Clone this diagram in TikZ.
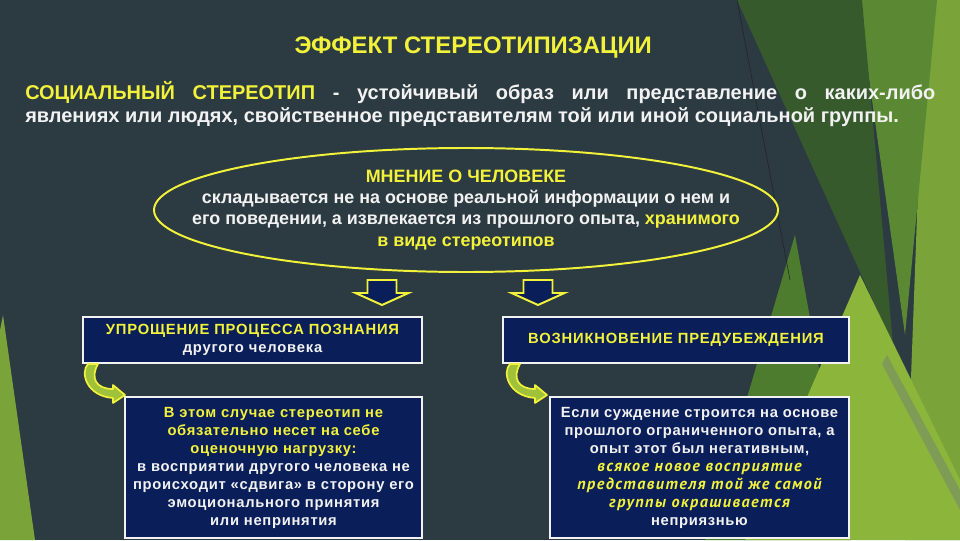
\documentclass[tikz,border=0pt]{standalone}
\usepackage{fontspec}
\setmainfont{Liberation Sans}
\newfontfamily\itcyr{PT Sans}[LetterSpace=9]
\usetikzlibrary{shapes.geometric}

\definecolor{slate}{HTML}{2C3A42}
\definecolor{darkgreen}{HTML}{375A2D}
\definecolor{midgreen}{HTML}{5B8833}
\definecolor{lightgreen}{HTML}{7AA33A}
\definecolor{lowgreen}{HTML}{4E7C2E}
\definecolor{brightgreen}{HTML}{8CB53B}
\definecolor{stripe}{HTML}{7F9C56}
\definecolor{arrgreen}{HTML}{A0C23A}
\definecolor{yel}{HTML}{F2F23A}
\definecolor{wht}{HTML}{F2F2F2}
\definecolor{navy}{HTML}{0A1E5A}

\tikzset{
  ttl/.style={font=\fontsize{17}{20}\selectfont\bfseries, text=yel},
  defn/.style={anchor=north west, inner sep=0pt, text width=22.75cm, align=justify,
    font=\fontsize{14.2}{16.4}\selectfont\bfseries, text=wht},
  opinionring/.style={ellipse, draw=yel, line width=1.4pt, minimum width=15.6cm, minimum height=3.1cm,
    inner sep=0pt},
  opiniontext/.style={inner sep=0pt, align=center, font=\fontsize{12.75}{15}\selectfont\bfseries, text=wht},
  headbox/.style={draw=wht, line width=1.4pt, fill=navy, minimum height=1.15cm, inner sep=0pt,
    align=center, font=\fontsize{10.5}{12.8}\selectfont\bfseries\addfontfeature{LetterSpace=5.5}, text=wht},
  bodybox/.style={headbox, minimum height=3.525cm},
  blockarr/.style={draw=yel, line width=1.4pt, fill=navy, line join=miter},
  curvearr/.style={draw=yel, line width=1.2pt, fill=arrgreen, line join=round},
}

\begin{document}
\begin{tikzpicture}
  \useasboundingbox (0,0) rectangle (24,13.5);
  \fill[slate] (0,0) rectangle (24,13.5);
  \fill[lightgreen] (23.125,13.5) -- (24,13.5) -- (24,0) -- (22.625,0) -- cycle;
  \fill[midgreen] (21.45,13.5) -- (23.425,13.5) -- (22.625,5.125) -- cycle;
  \fill[darkgreen] (18.425,13.5) -- (21.55,13.5) -- (22.325,4.875) -- cycle;
  \fill[lowgreen] (19.875,7.625) -- (21.25,0) -- (17.625,0) -- cycle;
  \fill[brightgreen] (21.5,6.625) -- (24,1.5) -- (24,0) -- (18.625,0) -- cycle;
  \fill[stripe] (22.175,4.625) -- (24,1.25) -- (24,0.75) -- (22.05,4.4) -- cycle;
  \fill[lightgreen] (0.075,5.625) -- (0.875,0) -- (0,0) -- (0,5.25) -- cycle;
  \draw[black!35!slate, line width=0.4pt] (18.425,13.5) -- (19.75,6.5);

  \node[ttl] (title) at (11.83,12.3) {ЭФФЕКТ СТЕРЕОТИПИЗАЦИИ};
  \node[defn] (stereo) at (0.625,11.48) {\hyphenpenalty=10000\exhyphenpenalty=10000
    {\color{yel}СОЦИАЛЬНЫЙ СТЕРЕОТИП} - устойчивый образ или представление о каких-либо\linebreak
    явлениях или людях, свойственное представителям той или иной социальной группы.};

  \node[opinionring] (ring) at (11.65,8.25) {};
  \node[opiniontext] (opinion) at (ring.center) {{\color{yel}МНЕНИЕ О ЧЕЛОВЕКЕ}\\
    складывается не на основе реальной информации о нем и\\
    его поведении, а извлекается из прошлого опыта, {\color{yel}хранимого}\\
    {\color{yel}в виде стереотипов}};

  \foreach \cx in {9.55,13.45}
    \draw[blockarr] (\cx-0.3625,6.5) -- (\cx+0.3625,6.5) -- (\cx+0.3625,6.175) -- (\cx+0.6625,6.175)
      -- (\cx,5.875) -- (\cx-0.6625,6.175) -- (\cx-0.3625,6.175) -- cycle;

  \node[headbox, minimum width=8.475cm] (simplify) at (6.3125,5.0)
    {{\color{yel}УПРОЩЕНИЕ ПРОЦЕССА ПОЗНАНИЯ}\\другого человека};
  \node[headbox, minimum width=8.65cm, text=yel] (prejudice) at (16.9,5.0)
    {ВОЗНИКНОВЕНИЕ ПРЕДУБЕЖДЕНИЯ};

  \node[bodybox, minimum width=7.425cm, font=\fontsize{10.5}{12.8}\selectfont\bfseries\addfontfeature{LetterSpace=4.8}]
    (neutral) at (6.8375,1.8125)
    {{\color{yel}В этом случае стереотип не}\\
     {\color{yel}обязательно несет на себе}\\
     {\color{yel}оценочную нагрузку:}\\
     в восприятии другого человека не\\
     происходит «сдвига» в сторону его\\
     эмоционального принятия\\
     или непринятия};
  \node[bodybox, minimum width=7.475cm, font=\fontsize{10.5}{12.8}\selectfont\bfseries\addfontfeature{LetterSpace=4.5}]
    (negative) at (17.4875,1.8125)
    {Если суждение строится на основе\\
     прошлого ограниченного опыта, а\\
     опыт этот был негативным,\\
     {\fontsize{11.5}{12.8}\itcyr\itshape\color{yel}всякое новое восприятие}\\
     {\fontsize{11.5}{12.8}\itcyr\itshape\color{yel}представителя той же самой}\\
     {\fontsize{11.5}{12.8}\itcyr\itshape\color{yel}группы окрашивается}\\
     неприязнью};

  \foreach \dx in {0,10.55}
    \draw[curvearr, xshift=\dx cm] (2.2,4.4) .. controls (2.0,4.2) and (2.15,3.6) .. (2.825,3.55)
      -- (2.825,3.425) -- (3.125,3.625) -- (2.825,3.875) -- (2.825,3.775)
      .. controls (2.4,3.775) and (2.25,4.05) .. (2.45,4.4) -- cycle;
\end{tikzpicture}
\end{document}
